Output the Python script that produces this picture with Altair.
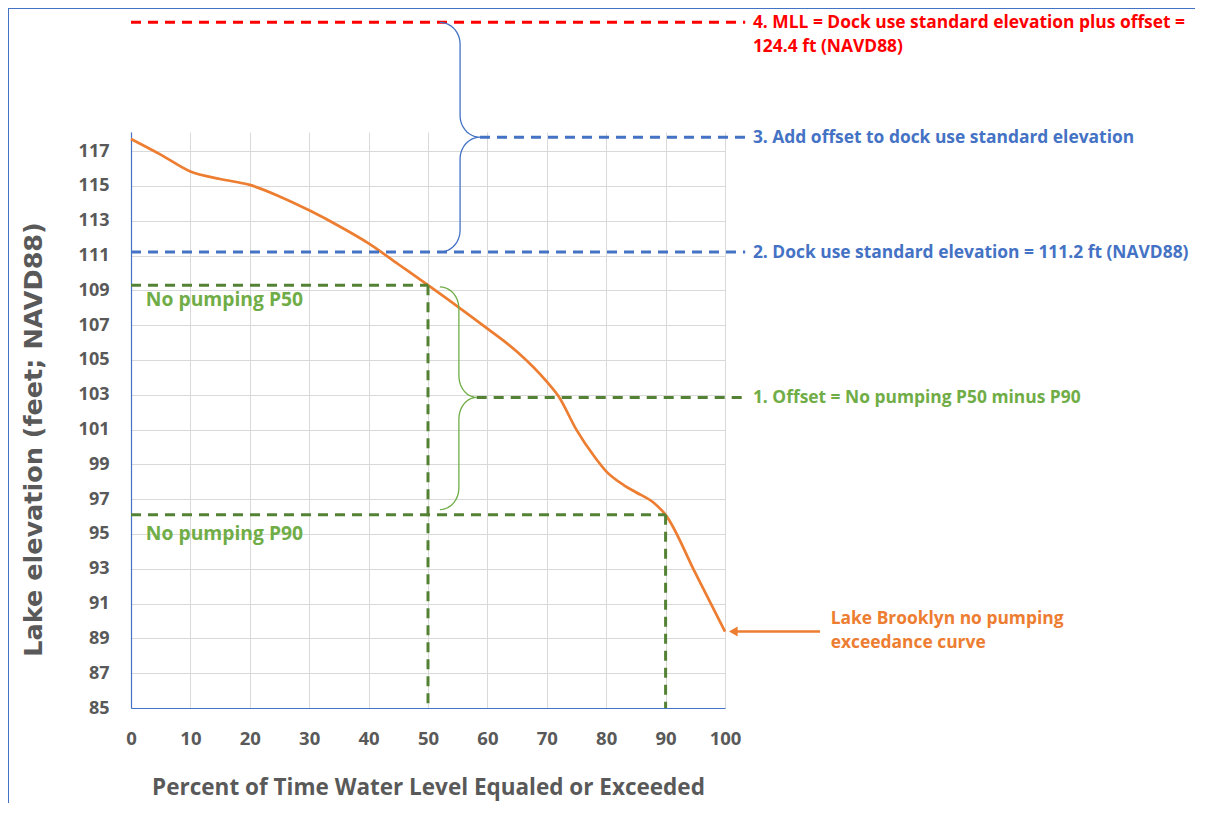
import altair as alt
import pandas as pd
import numpy as np

# ---- data ----
pct = [0, 5, 10, 15, 20, 25, 30, 35, 40, 45, 50, 55, 60, 65, 70, 72, 75, 78,
       80, 83, 85, 88, 90, 95, 100]
elev = [117.7, 116.8, 115.83, 115.4, 115.06, 114.4, 113.6, 112.7, 111.7, 110.5,
        109.3, 108.07, 106.8, 105.47, 103.75, 102.9, 100.98, 99.45, 98.6, 97.8,
        97.4, 96.8, 96.1, 92.76, 89.39]

x_ticks = [0, 10, 20, 30, 40, 50, 60, 70, 80, 90, 100]
y_ticks = [85, 87, 89, 91, 93, 95, 97, 99, 101, 103, 105, 107, 109, 111, 113, 115, 117]

p50 = 109.3
p90 = 96.1
dock = 111.2
mll = 124.4
offset_mid = 102.85
step3_mid = 117.8

RED = "#FF0000"
BLUE = "#4472C4"
GREEN_LINE = "#548235"
GREEN = "#70AD47"
ORANGE = "#ED7D31"
GRAY = "#595959"
FONT = "Open Sans"

X_END = 103.4   # right end of the guide lines (beyond the axis)

curve = pd.DataFrame({"pct": pct, "elev": elev})

segments = pd.DataFrame([
    {"x": 0, "x2": X_END, "y": mll, "y2": mll, "c": RED},
    {"x": 58.75, "x2": X_END, "y": step3_mid, "y2": step3_mid, "c": BLUE},
    {"x": 0, "x2": X_END, "y": dock, "y2": dock, "c": BLUE},
    {"x": 0, "x2": 50, "y": p50, "y2": p50, "c": GREEN_LINE},
    {"x": 0, "x2": 90, "y": p90, "y2": p90, "c": GREEN_LINE},
    {"x": 58.2, "x2": X_END, "y": offset_mid, "y2": offset_mid, "c": GREEN_LINE},
    {"x": 50, "x2": 50, "y": p50, "y2": 85, "c": GREEN_LINE},
    {"x": 90, "x2": 90, "y": p90, "y2": 85, "c": GREEN_LINE},
])


def brace(x_end, x_mid, x_tip, y_top, y_bot, y_c, ry, name):
    t = np.linspace(0, np.pi / 2, 12)
    pts = []
    for a in t[::-1]:
        pts.append((x_end + (x_mid - x_end) * np.cos(a), y_top - ry + ry * np.sin(a)))
    for a in t:
        pts.append((x_tip - (x_tip - x_mid) * np.cos(a), y_c + ry - ry * np.sin(a)))
    for a in t[::-1]:
        pts.append((x_tip - (x_tip - x_mid) * np.cos(a), y_c - ry + ry * np.sin(a)))
    for a in t:
        pts.append((x_end + (x_mid - x_end) * np.cos(a), y_bot + ry - ry * np.sin(a)))
    return pd.DataFrame({"bx": [p[0] for p in pts], "by": [p[1] for p in pts],
                         "o": list(range(len(pts))), "b": name})


blue_brace = brace(52.0, 55.4, 58.75, mll, dock, step3_mid, 1.25, "blue")
green_brace = brace(52.0, 55.2, 58.2, 109.2, 96.4, offset_mid, 1.25, "green")

xs = alt.Scale(domain=[0, 100], nice=False, zero=False)
ys = alt.Scale(domain=[85, 118.1], nice=False, zero=False)

x_axis = alt.Axis(values=x_ticks, title="Percent of Time Water Level Equaled or Exceeded",
                  grid=True, labelFontSize=18.5, titleFontSize=22.5,
                  labelPadding=21, titlePadding=29, tickCount=11,
                  labelOverlap=False, labelFlush=False)
y_axis = alt.Axis(values=y_ticks, title="Lake elevation (feet; NAVD88)", grid=True,
                  labelFontSize=18, labelPadding=22, titlePadding=32, tickCount=17,
                  labelOverlap=False, labelFlush=False,
                  titleFont="DejaVu Sans", titleFontSize=25.5, titleY=307)


def X(f):
    return alt.X(f, scale=xs, axis=x_axis)


def Y(f):
    return alt.Y(f, scale=ys, axis=y_axis)


curve_line = alt.Chart(curve).mark_line(color=ORANGE, strokeWidth=2.7, interpolate="monotone").encode(
    x=X("pct:Q"), y=Y("elev:Q"))

seg_layer = alt.Chart(segments).mark_rule(strokeWidth=3, strokeDash=[10, 7]).encode(
    x=X("x:Q"), x2="x2:Q", y=Y("y:Q"), y2="y2:Q",
    color=alt.Color("c:N", scale=None),
)

blue_b = alt.Chart(blue_brace).mark_line(color=BLUE, strokeWidth=1.3).encode(
    x=X("bx:Q"), y=Y("by:Q"), order="o:Q")
green_b = alt.Chart(green_brace).mark_line(color=GREEN, strokeWidth=1.3).encode(
    x=X("bx:Q"), y=Y("by:Q"), order="o:Q")

labels = pd.DataFrame([
    {"tx": 104.7, "ty": mll, "t": "4. MLL = Dock use standard elevation plus offset =", "c": RED, "k": 0},
    {"tx": 104.7, "ty": mll, "t": "124.4 ft (NAVD88)", "c": RED, "k": 1},
    {"tx": 104.7, "ty": step3_mid, "t": "3. Add offset to dock use standard elevation", "c": BLUE, "k": 0},
    {"tx": 104.7, "ty": dock, "t": "2. Dock use standard elevation = 111.2 ft (NAVD88)", "c": BLUE, "k": 0},
    {"tx": 104.7, "ty": offset_mid, "t": "1. Offset = No pumping P50 minus P90", "c": GREEN, "k": 0},
    {"tx": 2.5, "ty": 108.45, "t": "No pumping P50", "c": GREEN, "k": 4},
    {"tx": 2.5, "ty": 95.0, "t": "No pumping P90", "c": GREEN, "k": 4},
    {"tx": 117.8, "ty": 89.4, "t": "Lake Brooklyn no pumping", "c": ORANGE, "k": 2},
    {"tx": 117.8, "ty": 89.4, "t": "exceedance curve", "c": ORANGE, "k": 3},
])


def text_layer(k, dy, size=17.4):
    return alt.Chart(labels).transform_filter(alt.datum.k == k).mark_text(
        align="left", baseline="middle", font=FONT, fontWeight="bold", fontSize=size, dy=dy
    ).encode(x=X("tx:Q"), y=Y("ty:Q"), text="t:N", color=alt.Color("c:N", scale=None))


texts = (text_layer(0, 1) + text_layer(1, 25) + text_layer(2, -12) + text_layer(3, 12)
         + text_layer(4, 0, 19.3))

arrow = pd.DataFrame({"ax": [116.0], "ax2": [101.4], "ay": [89.4]})
arrow_line = alt.Chart(arrow).mark_rule(color=ORANGE, strokeWidth=2.5).encode(
    x=X("ax:Q"), x2="ax2:Q", y=Y("ay:Q"))
arrow_head = alt.Chart(arrow).mark_point(shape="triangle-left", filled=True, color=ORANGE,
                                         size=100, opacity=1).encode(
    x=X("ax2:Q"), y=Y("ay:Q"))

border = alt.Chart(arrow).mark_rule(color=BLUE, strokeWidth=2).encode(
    x=alt.value(-123), y=alt.value(-124), y2=alt.value(700))
border_top = alt.Chart(arrow).mark_rule(color=BLUE, strokeWidth=2).encode(
    x=alt.value(-123), x2=alt.value(1070), y=alt.value(-124))

chart = alt.layer(
    curve_line, seg_layer, blue_b, green_b, arrow_line, arrow_head, texts, border, border_top
).properties(
    width=594, height=576,
    autosize=alt.AutoSizeParams(type="none"),
    padding={"left": 123, "top": 124, "right": 470, "bottom": 95},
).configure_view(stroke=None).configure_axis(
    domainColor=BLUE, domainWidth=1.2, gridColor="#D9D9D9", gridWidth=1, ticks=False,
    labelFont=FONT, labelFontWeight="bold", labelColor=GRAY, labelBound=False,
    titleFont=FONT, titleColor=GRAY, titleFontWeight="bold",
).configure_axisY(labelOverlap=False)

chart.save("out.html", embed_options={"renderer": "svg", "actions": False})
